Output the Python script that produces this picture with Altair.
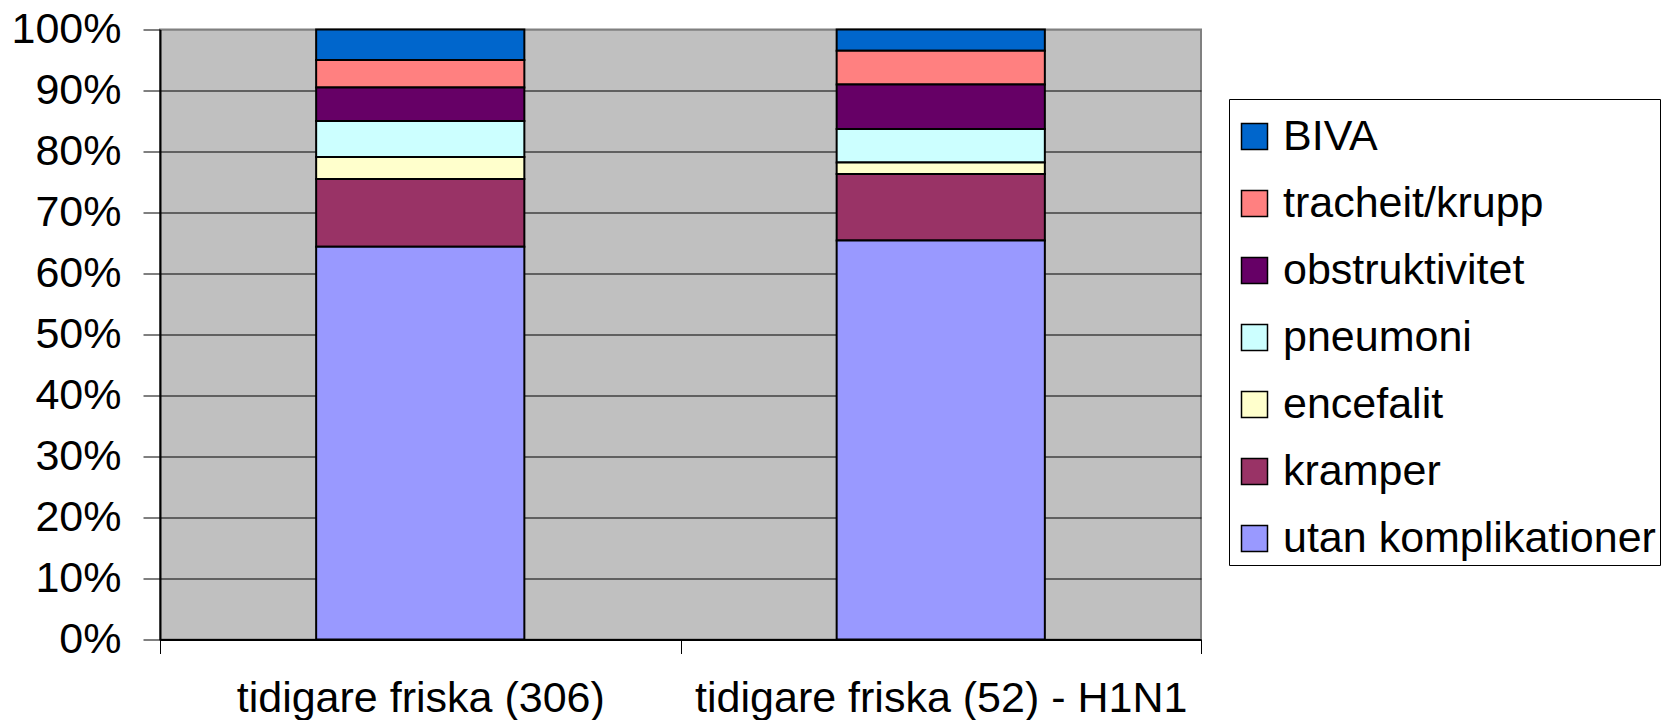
import altair as alt
import pandas as pd

groups = ["tidigare friska (306)", "tidigare friska (52) - H1N1"]
categories = ["BIVA", "tracheit/krupp", "obstruktivitet", "pneumoni",
              "encefalit", "kramper", "utan komplikationer"]
colors = ["#0066CC", "#FF8080", "#660066", "#CCFFFF", "#FFFFCC", "#993366", "#9999FF"]
values_306 = [5.0, 4.5, 5.5, 5.9, 3.6, 11.1, 64.4]
values_52 = [3.5, 5.5, 7.3, 5.5, 1.9, 10.9, 65.4]
y_ticks = [0, 0.1, 0.2, 0.3, 0.4, 0.5, 0.6, 0.7, 0.8, 0.9, 1.0]

rows = []
for g, vals in zip(groups, [values_306, values_52]):
    for i, (c, v) in enumerate(zip(categories, vals)):
        rows.append({"group": g, "category": c, "value": v,
                     "order": len(categories) - 1 - i})
df = pd.DataFrame(rows)

FONT = "Liberation Sans"

chart = alt.Chart(df).mark_bar(
    stroke="black", strokeWidth=2, width=alt.RelativeBandSize(0.4)
).encode(
    x=alt.X("group:N", sort=groups,
            scale=alt.Scale(paddingInner=0, paddingOuter=0),
            axis=alt.Axis(title=None, labelAngle=0, labelFontSize=43, labelFont=FONT,
                          labelColor="black", tickBand="extent", tickSize=14,
                          tickColor="black", tickWidth=1, domainColor="black",
                          domainWidth=2, labelPadding=24, grid=False, labelLimit=0)),
    y=alt.Y("value:Q", stack="normalize",
            scale=alt.Scale(domain=[0, 1], nice=False),
            axis=alt.Axis(title=None, format=".0%", values=y_ticks, labelFontSize=43,
                          labelFont=FONT, labelColor="black", tickSize=17,
                          tickColor="black", tickWidth=1, labelPadding=22, grid=True,
                          gridColor={"condition": {"test": "datum.value >= 1", "value": "#808080"},
                                     "value": "black"},
                          gridWidth=1, domainColor="black", domainWidth=2)),
    color=alt.Color("category:N",
                    scale=alt.Scale(domain=categories, range=colors),
                    legend=alt.Legend(title=" ", titleFontSize=1, titlePadding=11,
                                      orient="none", legendX=1069, legendY=69.5,
                                      symbolType="square", symbolSize=676,
                                      symbolStrokeColor="black", symbolStrokeWidth=1.5,
                                      symbolOpacity=1, labelFontSize=43, labelFont=FONT,
                                      labelColor="black", rowPadding=23, padding=4,
                                      strokeColor="black", fillColor="white",
                                      labelOffset=7, labelLimit=0)),
    order=alt.Order("order:Q", sort="ascending"),
).properties(
    width=1041, height=610,
    padding={"left": 152, "top": 21.5, "right": 460, "bottom": 80.5},
    autosize=alt.AutoSizeParams(type="none"),
    background="white",
).configure_view(
    fill="#C0C0C0", stroke="#808080", strokeWidth=2
)

chart.save("out.html", embed_options={"renderer": "svg", "actions": False})
